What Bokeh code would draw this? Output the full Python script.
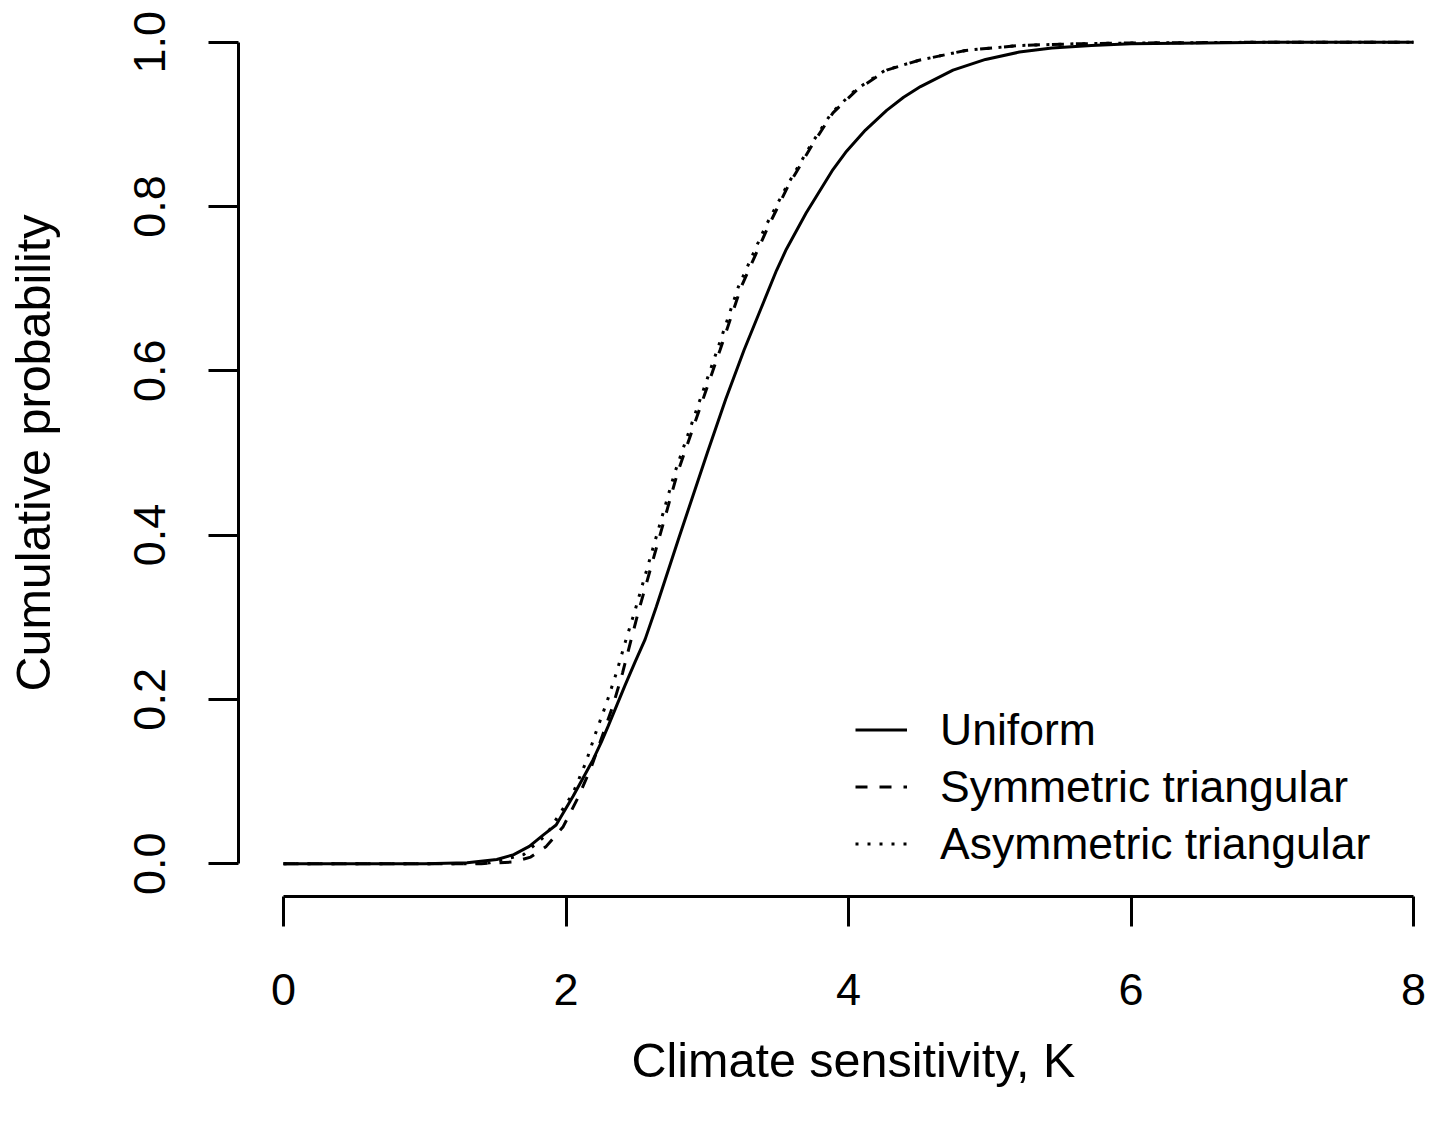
from bokeh.plotting import figure
from bokeh.models import Range1d, FixedTicker, NumeralTickFormatter, Legend, LegendItem, Title
from bokeh.embed import file_html
from bokeh.resources import INLINE

# ---- data ----
x_uniform = [0.0, 0.5, 1.0, 1.3, 1.51, 1.63, 1.74, 1.84, 1.93, 2.05, 2.12, 2.19, 2.25, 2.30,
             2.36, 2.42, 2.49, 2.56, 2.64, 2.80, 3.00, 3.13, 3.26, 3.49, 3.56, 3.70, 3.89,
             3.98, 4.12, 4.27, 4.39, 4.51, 4.74, 4.97, 5.21, 5.44, 5.72, 6.0, 6.5, 7.0, 8.0]
cdf_uniform = [0.0, 0.0, 0.0, 0.001, 0.005, 0.011, 0.021, 0.035, 0.047, 0.082, 0.104, 0.126,
               0.148, 0.168, 0.193, 0.218, 0.246, 0.273, 0.313, 0.397, 0.50, 0.565, 0.625,
               0.722, 0.748, 0.792, 0.845, 0.866, 0.893, 0.917, 0.933, 0.946, 0.966, 0.979,
               0.988, 0.993, 0.996, 0.998, 0.999, 1.0, 1.0]

x_symmetric = [0.0, 1.0, 1.4, 1.63, 1.75, 1.86, 1.98, 2.09, 2.18, 2.33, 2.40, 2.51, 2.79,
               3.09, 3.24, 3.43, 3.57, 3.75, 3.89, 4.06, 4.27, 4.50, 4.83, 5.21, 5.6, 6.0,
               7.0, 8.0]
cdf_symmetric = [0.0, 0.0, 0.0, 0.002, 0.008, 0.021, 0.045, 0.082, 0.118, 0.191, 0.232,
                 0.305, 0.476, 0.625, 0.702, 0.775, 0.824, 0.877, 0.914, 0.942, 0.966,
                 0.978, 0.990, 0.996, 0.998, 0.999, 1.0, 1.0]

x_asymmetric = [0.0, 1.0, 1.3, 1.46, 1.70, 1.86, 2.05, 2.14, 2.21, 2.29, 2.36, 2.42, 2.49,
                2.77, 3.07, 3.22, 3.41, 3.56, 3.74, 3.88, 4.05, 4.26, 4.50, 4.83, 5.21, 5.6,
                6.0, 7.0, 8.0]
cdf_asymmetric = [0.0, 0.0, 0.0, 0.001, 0.011, 0.035, 0.086, 0.123, 0.159, 0.197, 0.234,
                  0.270, 0.309, 0.476, 0.625, 0.702, 0.775, 0.824, 0.877, 0.914, 0.942,
                  0.966, 0.978, 0.990, 0.996, 0.998, 0.999, 1.0, 1.0]

series_labels = ["Uniform", "Symmetric triangular", "Asymmetric triangular"]
x_ticks = [0, 2, 4, 6, 8]
y_ticks = [0.0, 0.2, 0.4, 0.6, 0.8, 1.0]
x_title = "Climate sensitivity, K"
y_title = "Cumulative probability"

FONT = "Liberation Sans"
TICK_FS = "45px"
LEG_FS = "44.5px"
TITLE_FS = "48.5px"

p = figure(width=1426, height=1112, output_backend="svg", toolbar_location=None,
           x_range=Range1d(-0.3186, 8.092), y_range=Range1d(-0.04, 1.0398),
           min_border_left=238, min_border_right=0, min_border_top=9, min_border_bottom=216,
           background_fill_color="white", border_fill_color="white")
p.outline_line_color = None
p.grid.visible = False

for ax in (p.xaxis[0], p.yaxis[0]):
    ax.axis_line_width = 3
    ax.axis_line_color = "black"
    ax.major_tick_line_width = 3
    ax.major_tick_line_color = "black"
    ax.major_tick_out = 30
    ax.major_tick_in = 0
    ax.minor_tick_line_color = None
    ax.major_label_text_font = FONT
    ax.major_label_text_font_size = TICK_FS
    ax.major_label_text_color = "black"

p.xaxis[0].bounds = (x_ticks[0], x_ticks[-1])
p.xaxis[0].ticker = FixedTicker(ticks=x_ticks)
p.xaxis[0].major_label_standoff = 47

p.yaxis[0].bounds = (y_ticks[0], y_ticks[-1])
p.yaxis[0].ticker = FixedTicker(ticks=y_ticks)
p.yaxis[0].formatter = NumeralTickFormatter(format="0.0")
p.yaxis[0].major_label_orientation = "vertical"
p.yaxis[0].major_label_standoff = 43
p.yaxis[0].axis_label = y_title
p.yaxis[0].axis_label_standoff = 72
p.yaxis[0].axis_label_text_font = FONT
p.yaxis[0].axis_label_text_font_size = TITLE_FS
p.yaxis[0].axis_label_text_font_style = "normal"
p.yaxis[0].axis_label_text_color = "black"

# x-axis title, centred on the tick range (x = 0..8) as in the original
p.add_layout(Title(text=x_title, align="left", offset=393, standoff=47,
                   text_font=FONT, text_font_size=TITLE_FS, text_font_style="normal",
                   text_color="black"), "below")

r1 = p.line(x_uniform, cdf_uniform, line_color="black", line_width=3)
r2 = p.line(x_symmetric, cdf_symmetric, line_color="black", line_width=3, line_dash="12 12")
r3 = p.line(x_asymmetric, cdf_asymmetric, line_color="black", line_width=3, line_dash="3 9")

legend = Legend(items=[LegendItem(label=series_labels[0], renderers=[r1]),
                       LegendItem(label=series_labels[1], renderers=[r2]),
                       LegendItem(label=series_labels[2], renderers=[r3])],
                location=(617, 24), padding=0, margin=0, spacing=0,
                glyph_width=52, glyph_height=57, label_height=57, label_standoff=33,
                label_text_font=FONT, label_text_font_size=LEG_FS, label_text_color="black",
                border_line_color=None, background_fill_alpha=0)
p.add_layout(legend)

open("out.html", "w").write(file_html(p, INLINE))
